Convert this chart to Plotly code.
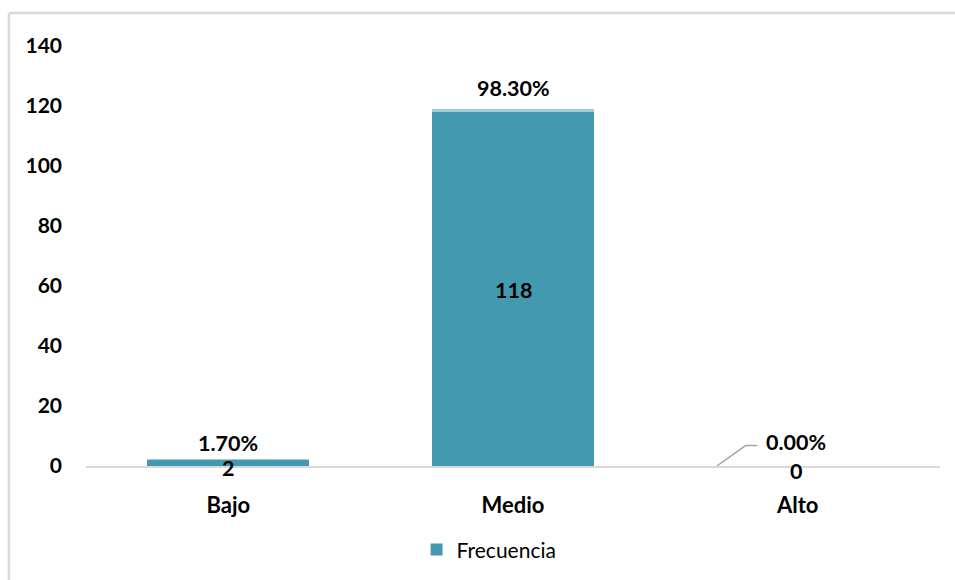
import plotly.graph_objects as go

categorias = ["Bajo", "Medio", "Alto"]
frecuencia = [2, 118, 0]
porcentaje = [0.017, 0.983, 0.0]
y_ticks = [0, 20, 40, 60, 80, 100, 120, 140]

FONT = "Lato"
C_FREC = "#4399B0"
C_PCT = "#9DCCDA"
LBL = 21.5

fig = go.Figure()
fig.add_trace(go.Bar(
    x=categorias, y=frecuencia, name="Frecuencia",
    marker=dict(color=C_FREC, line=dict(width=0)),
    width=0.57,
))
fig.add_trace(go.Bar(
    x=categorias, y=porcentaje, name="Porcentaje", showlegend=False,
    marker=dict(color=C_PCT, line=dict(width=0)),
    width=0.57,
))

annots = []
for i, (c, f, p) in enumerate(zip(categorias, frecuencia, porcentaje)):
    annots.append(dict(
        x=c, y=f / 2, xref="x", yref="y", text=f"<b>{f}</b>",
        showarrow=False, font=dict(family=FONT, size=LBL, color="black"),
        yshift=-1 if f > 5 else -5,
        xshift=-2 if f == 0 else 0,
    ))
    if f == 0:
        annots.append(dict(
            x=c, y=f + p, xref="x", yref="y", text=f"<b>{p*100:.2f}%</b>",
            showarrow=False, yanchor="bottom", yshift=9, xshift=-2,
            font=dict(family=FONT, size=LBL, color="black"),
        ))
    else:
        annots.append(dict(
            x=c, y=f + p, xref="x", yref="y", text=f"<b>{p*100:.2f}%</b>",
            showarrow=False, yanchor="bottom",
            yshift=6 if f > 5 else 2,
            font=dict(family=FONT, size=LBL, color="black"),
        ))

fig.update_layout(
    width=955, height=580,
    margin=dict(l=86, r=15, t=46, b=114, autoexpand=False),
    paper_bgcolor="white", plot_bgcolor="white",
    barmode="stack", bargap=0.43,
    font=dict(family=FONT, color="black"),
    xaxis=dict(
        showgrid=False, showline=True, linecolor="#D9D9D9", linewidth=1.5,
        ticks="", tickfont=dict(family=FONT, size=22, color="black", weight="bold"),
        ticklabelstandoff=19, automargin=False,
    ),
    yaxis=dict(
        range=[0, 140], tickvals=y_ticks, showgrid=False, zeroline=False,
        showline=False, ticks="",
        tickfont=dict(family=FONT, size=21, color="black", weight="bold"),
        ticklabelstandoff=23, automargin=False,
    ),
    legend=dict(
        orientation="h", x=0.472, xanchor="center",
        yref="container", y=0.052, yanchor="middle",
        font=dict(family=FONT, size=21, color="black"),
    ),
    annotations=annots,
    shapes=[
        dict(type="path", xref="x", yref="y",
             path="M 1.716,0 L 1.817,6.8 L 1.859,6.8",
             line=dict(color="#A6A6A6", width=1.5)),
        dict(type="line", xref="paper", yref="paper",
             x0=-0.0902, y0=1.0786, x1=1.2, y1=1.0786,
             line=dict(color="#D9D9D9", width=2.5)),
        dict(type="line", xref="paper", yref="paper",
             x0=-0.0902, y0=1.0786, x1=-0.0902, y1=-0.5,
             line=dict(color="#D9D9D9", width=2.5)),
    ],
)

fig.write_html("out.html")
